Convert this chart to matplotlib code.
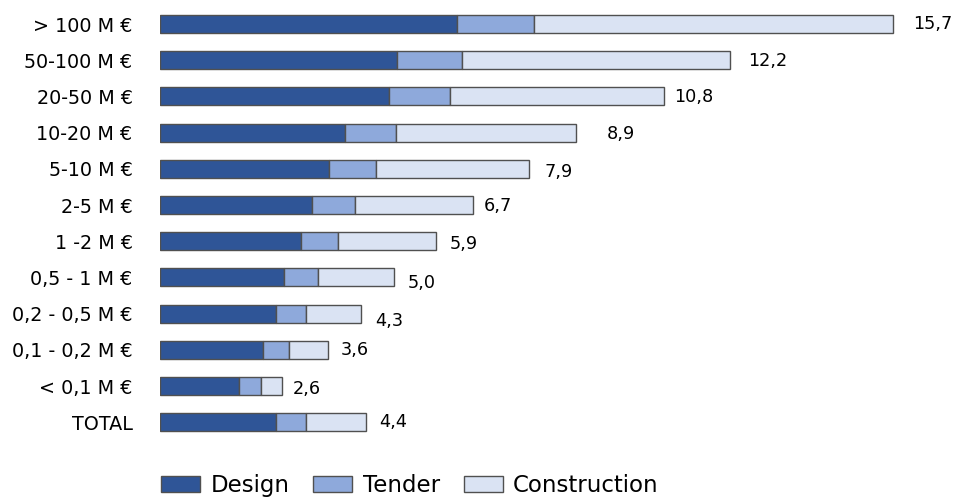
import numpy as np
import matplotlib
matplotlib.use("Agg")
import matplotlib.pyplot as plt

# ---------------------------------------------------------------------------
# Data: average duration (years) per project size class
# ---------------------------------------------------------------------------

categories = ["> 100 M €", "50-100 M €", "20-50 M €", "10-20 M €", "5-10 M €",
              "2-5 M €", "1 -2 M €", "0,5 - 1 M €", "0,2 - 0,5 M €",
              "0,1 - 0,2 M €", "< 0,1 M €", "TOTAL"]
design       = [6.36, 5.08, 4.91, 3.95, 3.62, 3.26, 3.01, 2.66, 2.48, 2.20, 1.69, 2.47]
tender       = [1.65, 1.39, 1.29, 1.09, 1.01, 0.92, 0.79, 0.71, 0.65, 0.56, 0.47, 0.66]
construction = [7.69, 5.73, 4.60, 3.86, 3.27, 2.52, 2.10, 1.63, 1.17, 0.84, 0.44, 1.27]

# label nudges in pixels (right, down)
label_dx = [20, 18, 10, 31, 16, 11, 14, 14, 14, 12, 11, 14]
label_dy = [0, 1, 1, 1, 3, 1, 3, 6, 7, 0, 3, 0]

# ---------------------------------------------------------------------------
# Figure
# ---------------------------------------------------------------------------

W, H = 955, 498
fig = plt.figure(figsize=(W / 100, H / 100), dpi=100)
left_px, top_px, pitch = 160.3, 5.9, 36.2
n = len(categories)
ax = fig.add_axes([left_px / W, (H - top_px - n * pitch) / H,
                   (W - left_px) / W, n * pitch / H])

y = np.arange(n)
d = np.array(design)
t = np.array(tender)
c = np.array(construction)
totals = d + t + c

edge = "#505050"
ax.barh(y, d, height=0.5, color="#2F5597", edgecolor=edge, lw=1.0, label="Design")
ax.barh(y, t, left=d, height=0.5, color="#8EA9DB", edgecolor=edge, lw=1.0,
        label="Tender")
ax.barh(y, c, left=d + t, height=0.5, color="#DAE3F3", edgecolor=edge, lw=1.0,
        label="Construction")

for i, tot in enumerate(totals):
    ax.annotate(f"{tot:.1f}".replace(".", ","), (tot, i),
                xytext=(label_dx[i], -label_dy[i]), textcoords="offset pixels",
                ha="left", va="center", fontsize=12.7, color="black")

ax.set_xlim(0, (W - left_px) / 46.67)
ax.set_ylim(n - 0.5, -0.5)
ax.set_yticks(y)
ax.set_yticklabels(categories, fontsize=13.8)
ax.tick_params(axis="y", length=0, pad=20)
ax.set_xticks([])
for s in ax.spines.values():
    s.set_visible(False)

handles, labels = ax.get_legend_handles_labels()
fig.legend(handles, labels, loc="center left", ncol=3, frameon=False,
           bbox_to_anchor=(161 / W, (H - 485.5) / H), borderpad=0,
           borderaxespad=0, fontsize=16.5, handlelength=1.7, handleheight=0.74,
           handletextpad=0.45, columnspacing=1.05)

fig.savefig("out.png", dpi=100)
